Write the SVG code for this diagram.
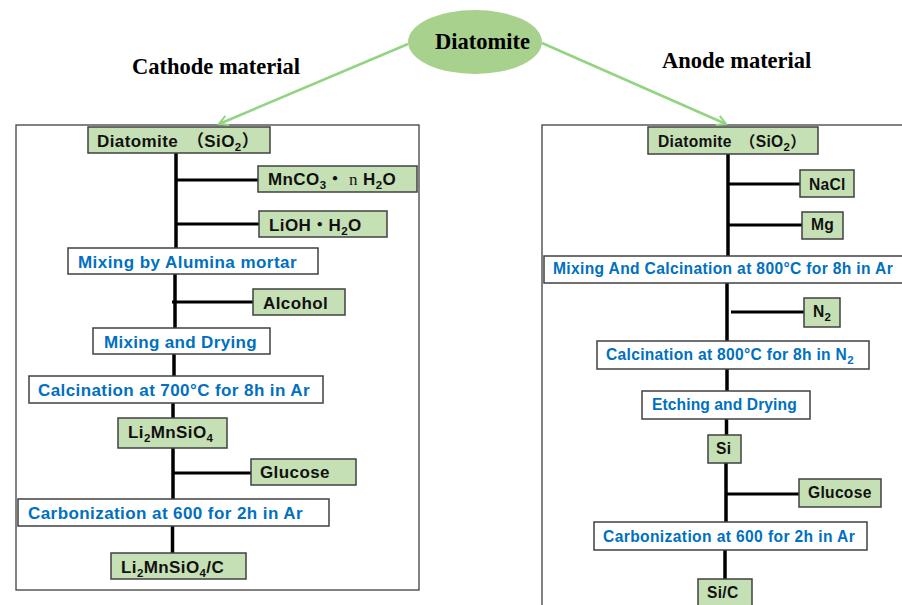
<svg xmlns="http://www.w3.org/2000/svg" width="902" height="605" viewBox="0 0 902 605">
<defs>
<style>
.frame{fill:#fff;stroke:#404040;stroke-width:1.3}
.g{fill:#C5E0B4;stroke:#404040;stroke-width:1.5}
.w{fill:#fff;stroke:#404040;stroke-width:1.5}
.tb{font-family:"Liberation Sans","Noto Sans CJK JP",sans-serif;font-weight:bold;font-size:17px;letter-spacing:0.4px;fill:#111}
.tc{font-family:"Liberation Sans","Noto Sans CJK JP",sans-serif;font-weight:bold;font-size:17px;letter-spacing:0.4px;fill:#0070C0}
.an{font-size:15.6px;letter-spacing:0.3px}
.title{font-family:"Liberation Serif","Times New Roman",serif;font-weight:bold;font-size:22.5px;fill:#000}
.trunk{stroke:#000;stroke-width:3.5;fill:none}
.br{stroke:#000;stroke-width:3;fill:none}
.arr{stroke:#92D483;stroke-width:2.5;fill:none}
.sub{font-size:11.5px}
</style>
<marker id="ah" markerWidth="12" markerHeight="12" refX="10" refY="6" orient="auto" markerUnits="userSpaceOnUse">
<path d="M1,1 L10,6 L1,11" fill="none" stroke="#92D483" stroke-width="2"/>
</marker>
</defs>
<rect width="902" height="605" fill="#fff"/>
<rect class="frame" x="16" y="125" width="403" height="465"/>
<rect class="frame" x="542" y="125" width="370" height="490"/>
<text class="title" x="132" y="74">Cathode material</text>
<text class="title" x="662" y="68">Anode material</text>
<g id="connectors">
<line class="arr" x1="408" y1="44" x2="219" y2="124" marker-end="url(#ah)"/>
<line class="arr" x1="542" y1="43" x2="726" y2="124" marker-end="url(#ah)"/>
<line class="trunk" x1="176" y1="153" x2="176" y2="248"/>
<line class="trunk" x1="175" y1="274" x2="175" y2="328"/>
<line class="trunk" x1="174" y1="354" x2="174" y2="376"/>
<line class="trunk" x1="173" y1="403" x2="173" y2="418"/>
<line class="trunk" x1="173" y1="448" x2="173" y2="499"/>
<line class="trunk" x1="172.5" y1="526" x2="172.5" y2="553"/>
<line class="br" x1="176" y1="180" x2="258" y2="180"/>
<line class="br" x1="176" y1="224" x2="259" y2="224"/>
<line class="br" x1="172" y1="302" x2="253" y2="302"/>
<line class="br" x1="173" y1="473" x2="251" y2="473"/>
<line class="trunk" x1="728" y1="154" x2="728" y2="256"/>
<line class="trunk" x1="727" y1="283" x2="727" y2="341"/>
<line class="trunk" x1="727" y1="369" x2="727" y2="391"/>
<line class="trunk" x1="726.5" y1="419" x2="726.5" y2="435"/>
<line class="trunk" x1="726" y1="463" x2="726" y2="522"/>
<line class="trunk" x1="725" y1="550" x2="725" y2="580"/>
<line class="br" x1="728" y1="184" x2="800" y2="184"/>
<line class="br" x1="728" y1="225" x2="802" y2="225"/>
<line class="br" x1="731" y1="312" x2="804" y2="312"/>
<line class="br" x1="726" y1="494" x2="799" y2="494"/>
</g>
<g id="diatomite">
<ellipse cx="475" cy="42" rx="67" ry="32" fill="#A9D18E"/>
<text class="title" x="435" y="49">Diatomite</text>
</g>
<g id="c-diatomite"><rect class="g" x="88" y="127" width="182" height="26"/><text class="tb" x="97" y="147">Diatomite　（SiO<tspan class="sub" dy="4">2</tspan><tspan dy="-4">）</tspan></text></g>
<g id="c-mnco3"><rect class="g" x="258" y="166" width="159" height="26"/><text class="tb" x="268" y="185">MnCO<tspan class="sub" dy="4">3</tspan><tspan dy="-4">・ </tspan><tspan font-family="Liberation Serif,serif" font-weight="normal">n</tspan> H<tspan class="sub" dy="4">2</tspan><tspan dy="-4">O</tspan></text></g>
<g id="c-lioh"><rect class="g" x="259" y="211" width="128" height="26"/><text class="tb" x="269" y="231">LiOH・H<tspan class="sub" dy="4">2</tspan><tspan dy="-4">O</tspan></text></g>
<g id="c-mix1"><rect class="w" x="68" y="248" width="250" height="26"/><text class="tc" x="78" y="268" textLength="219" lengthAdjust="spacing">Mixing by Alumina mortar</text></g>
<g id="c-alcohol"><rect class="g" x="253" y="289" width="92" height="26"/><text class="tb" x="263" y="309">Alcohol</text></g>
<g id="c-mix2"><rect class="w" x="93" y="328" width="177" height="26"/><text class="tc" x="104" y="348" textLength="153" lengthAdjust="spacing">Mixing and Drying</text></g>
<g id="c-calc"><rect class="w" x="29" y="376" width="294" height="27"/><text class="tc" x="38" y="396" textLength="272" lengthAdjust="spacing">Calcination at 700°C for 8h in Ar</text></g>
<g id="c-limnsio4"><rect class="g" x="118" y="418" width="109" height="30"/><text class="tb" x="128" y="438">Li<tspan class="sub" dy="4">2</tspan><tspan dy="-4">MnSiO</tspan><tspan class="sub" dy="4">4</tspan></text></g>
<g id="c-glucose"><rect class="g" x="251" y="459" width="105" height="26"/><text class="tb" x="260" y="478">Glucose</text></g>
<g id="c-carb"><rect class="w" x="18" y="499" width="311" height="27"/><text class="tc" x="28" y="519" textLength="275" lengthAdjust="spacing">Carbonization at 600 for 2h in Ar</text></g>
<g id="c-final"><rect class="g" x="111" y="553" width="135" height="26"/><text class="tb" x="121" y="573">Li<tspan class="sub" dy="4">2</tspan><tspan dy="-4">MnSiO</tspan><tspan class="sub" dy="4">4</tspan><tspan dy="-4">/C</tspan></text></g>
<g id="a-diatomite"><rect class="g" x="648" y="127" width="170" height="27"/><text class="tb an" x="658" y="147">Diatomite　（SiO<tspan class="sub" dy="4">2</tspan><tspan dy="-4">）</tspan></text></g>
<g id="a-nacl"><rect class="g" x="800" y="170" width="54" height="27"/><text class="tb an" x="809" y="190">NaCl</text></g>
<g id="a-mg"><rect class="g" x="802" y="212" width="41" height="27"/><text class="tb an" x="811" y="230">Mg</text></g>
<g id="a-mix"><rect class="w" x="544" y="256" width="370" height="27"/><text class="tc an" x="553" y="274" textLength="340" lengthAdjust="spacing">Mixing And Calcination at 800°C for 8h in Ar</text></g>
<g id="a-n2"><rect class="g" x="804" y="298" width="36" height="29"/><text class="tb an" x="813" y="317">N<tspan class="sub" dy="4">2</tspan></text></g>
<g id="a-calc"><rect class="w" x="597" y="341" width="272" height="28"/><text class="tc an" x="606" y="360">Calcination at 800°C for 8h in N<tspan class="sub" dy="4">2</tspan></text></g>
<g id="a-etch"><rect class="w" x="642" y="391" width="168" height="28"/><text class="tc an" x="652" y="410" textLength="145" lengthAdjust="spacing">Etching and Drying</text></g>
<g id="a-si"><rect class="g" x="708" y="435" width="33" height="28"/><text class="tb an" x="716" y="454">Si</text></g>
<g id="a-glucose"><rect class="g" x="799" y="479" width="82" height="28"/><text class="tb an" x="808" y="498">Glucose</text></g>
<g id="a-carb"><rect class="w" x="594" y="522" width="273" height="28"/><text class="tc an" x="603" y="542" textLength="252" lengthAdjust="spacing">Carbonization at 600 for 2h in Ar</text></g>
<g id="a-final"><rect class="g" x="698" y="579" width="54" height="30"/><text class="tb an" x="707" y="598">Si/C</text></g>
</svg>
